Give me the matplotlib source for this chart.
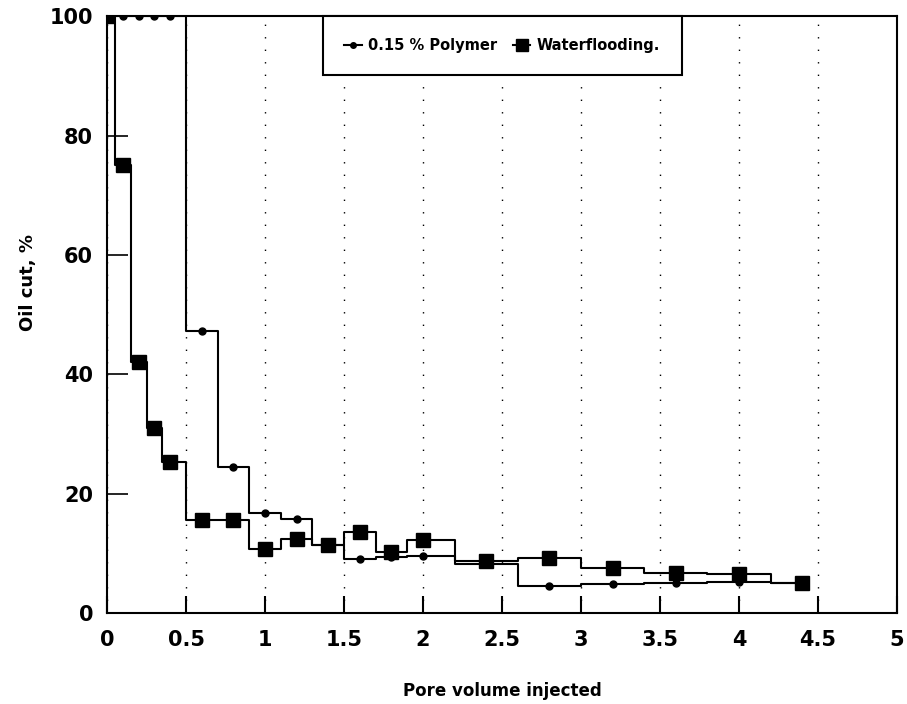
""" Oil cut versus pore volume injected: polymer flood vs waterflooding """

import matplotlib
matplotlib.use("Agg")
import matplotlib.pyplot as plt

# pore volume injected (same sampling for both runs)
pore_volume = [0.0, 0.1, 0.2, 0.3, 0.4, 0.6, 0.8, 1.0, 1.2, 1.4,
               1.6, 1.8, 2.0, 2.4, 2.8, 3.2, 3.6, 4.0, 4.4]

# oil cut, %
polymer_cut = [100, 100, 100, 100, 100, 47.3, 24.5, 16.8, 15.7, 11.5,
               9.0, 9.4, 9.6, 8.2, 4.5, 4.9, 5.0, 5.2, 5.0]
water_cut = [100, 75.0, 42.0, 31.0, 25.3, 15.6, 15.6, 10.7, 12.4, 11.4,
             13.6, 10.3, 12.3, 8.7, 9.2, 7.6, 6.8, 6.6, 5.0]

x_ticks = [0, 0.5, 1, 1.5, 2, 2.5, 3, 3.5, 4, 4.5, 5]
x_tick_labels = ["0", "0.5", "1", "1.5", "2", "2.5", "3", "3.5", "4", "4.5", "5"]
y_ticks = [0, 20, 40, 60, 80, 100]

plt.rcParams["font.family"] = ["DejaVu Sans"]
plt.rcParams["font.weight"] = "bold"

fig = plt.figure(figsize=(9.07, 7.04), dpi=100)
ax = fig.add_axes([0.118, 0.129, 0.871, 0.848])

ax.plot(pore_volume, polymer_cut, drawstyle="steps-mid", color="black",
        lw=1.5, marker="o", ms=5, label="0.15 % Polymer")
ax.plot(pore_volume, water_cut, drawstyle="steps-mid", color="black",
        lw=1.5, marker="s", ms=10, label="Waterflooding.")

ax.set_xlim(0, 5)
ax.set_ylim(0, 100)
ax.set_xticks(x_ticks)
ax.set_xticklabels(x_tick_labels)
ax.set_yticks(y_ticks)

ax.grid(True, axis="x", color="black", lw=1.0, linestyle=(0, (1, 8)))

ax.tick_params(axis="x", direction="in", length=12, width=1.5, pad=12,
               labelsize=15)
ax.tick_params(axis="y", direction="in", length=15, width=1.2, pad=10,
               labelsize=15)
for lbl in ax.get_xticklabels() + ax.get_yticklabels():
    lbl.set_fontweight("bold")

for spine in ax.spines.values():
    spine.set_linewidth(1.5)

ax.set_xlabel("Pore volume injected", fontsize=12, fontweight="bold",
              labelpad=23)
ax.set_ylabel("Oil cut, %", fontsize=13, fontweight="bold")
ax.yaxis.set_label_coords(-0.089, 0.554)

leg = ax.legend(loc="upper center", bbox_to_anchor=(0.5, 1.0), ncol=2,
                borderaxespad=0, fancybox=False, edgecolor="black",
                framealpha=1, handlelength=1.2, handletextpad=0.4,
                columnspacing=1.1, borderpad=1.5, markerscale=0.8,
                prop={"size": 10.5, "weight": "bold"})
leg.get_frame().set_linewidth(1.5)

fig.savefig("out.png", dpi=100)
